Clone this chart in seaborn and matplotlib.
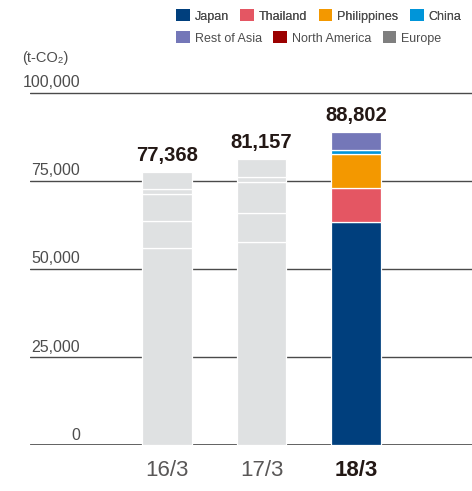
import matplotlib
matplotlib.use("Agg")
import matplotlib.pyplot as plt
import matplotlib.transforms as mtransforms
from matplotlib.patches import Patch
import numpy as np
import seaborn as sns

# Fiscal years and CO2 emissions (t-CO2) by region
periods = ["16/3", "17/3", "18/3"]
regions = ["Japan", "Thailand", "Philippines", "China",
           "Rest of Asia", "North America", "Europe"]
japan = [55880, 57590, 63250]
thailand = [7760, 8120, 9550]
philippines = [7580, 8920, 9850]
china = [1420, 1420, 1150]
rest_of_asia = [4728, 5107, 5002]
north_america = [0, 0, 0]
europe = [0, 0, 0]
totals = [77368, 81157, 88802]
y_ticks = [0, 25000, 50000, 75000, 100000]

region_colors = ["#003f7d", "#e45663", "#f39800", "#0095d9",
                 "#7477b8", "#9b0000", "#7f7f7f"]
past_color = "#dfe1e2"

sns.set_theme(style="white")
plt.rcParams["font.family"] = ["Liberation Sans", "DejaVu Sans"]

fig = plt.figure(figsize=(4.72, 4.91), dpi=100)
ax_left, ax_bottom = 30 / 472, 1 - 445 / 491
ax = fig.add_axes([ax_left, ax_bottom, 442 / 472, 356 / 491])

# stacked segments: earlier years in grey, the latest year in regional colour
series = [japan, thailand, philippines, china, rest_of_asia, north_america, europe]
bottoms = np.zeros(len(periods))
for name, vals, col in zip(regions, series, region_colors):
    vals = np.asarray(vals, dtype=float)
    if vals.sum() > 0:
        n_before = len(ax.patches)
        sns.barplot(x=periods, y=vals, color=past_color, bottom=bottoms,
                    width=0.52, edgecolor="white", linewidth=0.9,
                    saturation=1, ax=ax, zorder=3)
        ax.patches[n_before + len(periods) - 1].set_facecolor(col)
    bottoms = bottoms + vals

ax.set_xlim(-1.45, 3.228)
ax.set_ylim(0, 101000)

# horizontal rules behind the bars
for v in y_ticks:
    ax.axhline(v, color="#333333" if v == 0 else "#4a4a4a",
               lw=1.8 if v == 0 else 1.0, zorder=1)

for s in ax.spines.values():
    s.set_visible(False)
ax.set_yticks([])
ax.set_ylabel("")
ax.set_xticks(range(len(periods)))
ax.set_xticklabels(periods, fontsize=16)
ax.tick_params(axis="x", length=0, pad=11)
for i, lab in enumerate(ax.get_xticklabels()):
    if i == len(periods) - 1:
        lab.set_fontweight("bold")
        lab.set_color("#231815")
    else:
        lab.set_color("#595757")

# y-axis values sitting just above each rule
ytrans = mtransforms.blended_transform_factory(ax.transAxes, ax.transData)
yoff = mtransforms.offset_copy(ytrans, fig=fig, x=0, y=3.8, units="points")
for v in y_ticks:
    ax.text(0.113, v, f"{v:,}", transform=yoff, ha="right", va="baseline",
            fontsize=11.5, color="#4d4d4d")

fig.text(22 / 472, 1 - 58 / 491, "(t-CO\u2082)", ha="left", va="center",
         fontsize=10.5, color="#4d4d4d")

# totals above bars
for i, t in enumerate(totals):
    ax.annotate(f"{t:,}", (i, t), xytext=(0, 5), textcoords="offset points",
                ha="center", va="bottom", fontsize=14.5, fontweight="bold",
                color="#231815")

# legend in two rows
def make_legend(names, cols, y):
    handles = [Patch(facecolor=c, edgecolor="none") for c in cols]
    leg = fig.legend(handles, names, loc="center left",
                     bbox_to_anchor=(176 / 472, 1 - y / 491), ncol=len(names),
                     frameon=False, fontsize=9, handlelength=1.1,
                     handleheight=1.1, handletextpad=0.4, columnspacing=0.9,
                     borderpad=0, borderaxespad=0)
    for txt in leg.get_texts():
        txt.set_color("#4d4d4d")
    return leg

leg1 = make_legend(regions[:4], region_colors[:4], 16)
fig.add_artist(leg1)
make_legend(regions[4:], region_colors[4:], 38)

fig.savefig("out.png", dpi=100)
